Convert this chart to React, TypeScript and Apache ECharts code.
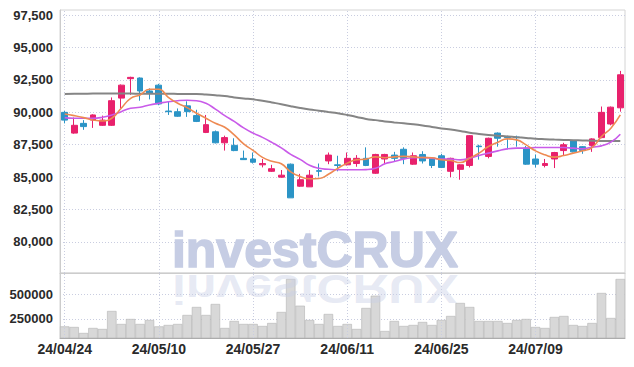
import React, { useEffect, useRef } from "react";
import * as echarts from "echarts";

const dates = [
  "24/04/24", "24/04/25", "24/04/26", "24/04/29", "24/04/30", "24/05/02", "24/05/03", "24/05/07", "24/05/08", "24/05/09",
  "24/05/10", "24/05/13", "24/05/14", "24/05/16", "24/05/17", "24/05/20", "24/05/21", "24/05/22", "24/05/23", "24/05/24",
  "24/05/27", "24/05/28", "24/05/29", "24/05/30", "24/05/31", "24/06/03", "24/06/04", "24/06/05", "24/06/07", "24/06/10",
  "24/06/11", "24/06/12", "24/06/13", "24/06/14", "24/06/17", "24/06/18", "24/06/19", "24/06/20", "24/06/21", "24/06/24",
  "24/06/25", "24/06/26", "24/06/27", "24/06/28", "24/07/01", "24/07/02", "24/07/03", "24/07/04", "24/07/05", "24/07/08",
  "24/07/09", "24/07/10", "24/07/11", "24/07/12", "24/07/15", "24/07/16", "24/07/17", "24/07/18", "24/07/19", "24/07/22",
];

const openPrices = [
  90000, 88400, 89150, 89400, 89000, 89000, 91100, 92600, 92650, 91650,
  92100, 90100, 90050, 90500, 89750, 88450, 88500, 87650, 87450, 86450,
  86400, 85950, 85450, 85000, 86000, 84300, 84250, 85500, 86250, 85950,
  85950, 86050, 86450, 85300, 86400, 86700, 87150, 86000, 86750, 86450,
  86650, 85450, 85600, 85900, 87400, 86600, 88400, 88100, 88100, 87250,
  86400, 85900, 86400, 87050, 87800, 87350, 87450, 88050, 89100, 90350,
];
const closePrices = [
  89400, 89000, 88900, 89800, 89400, 90900, 92100, 92700, 91650, 91450,
  90650, 90050, 89700, 90050, 89300, 89050, 87650, 88050, 87050, 86350,
  86150, 86050, 85650, 85150, 83400, 84800, 85150, 85450, 86700, 85900,
  86450, 86450, 85900, 86750, 86750, 86450, 86450, 86650, 86250, 85900,
  85750, 86450, 85950, 88200, 87350, 88000, 88000, 88050, 88050, 86000,
  86000, 86050, 86900, 87500, 86950, 87050, 87950, 90000, 90400, 92900,
];
const lowPrices = [
  89150, 88350, 88650, 88800, 88950, 88950, 90300, 91350, 90900, 91000,
  90550, 89800, 89650, 89650, 89250, 88400, 87600, 87050, 87000, 86350,
  86050, 85750, 85400, 84950, 83400, 84250, 84250, 85050, 86000, 85450,
  85900, 85800, 85850, 85250, 86000, 86200, 86000, 85950, 86050, 85700,
  85700, 85000, 84800, 85750, 86350, 86450, 87350, 87150, 87350, 85950,
  85750, 85750, 85700, 86650, 86900, 86800, 86950, 88000, 89000, 90050,
];
const highPrices = [
  90100, 89600, 89400, 89850, 89750, 91150, 92150, 92750, 92700, 91850,
  92200, 90800, 90300, 90850, 90200, 89800, 88600, 88200, 88000, 87050,
  86900, 86400, 85950, 85550, 86050, 85250, 85550, 86050, 86900, 86650,
  86900, 86700, 87300, 86800, 86800, 86950, 87300, 86900, 87000, 86500,
  86800, 86500, 86000, 88250, 87500, 88050, 88450, 88200, 88200, 87400,
  86750, 86400, 86950, 87650, 87850, 87400, 88000, 90450, 90450, 93200,
];

const ma5 = [
  89877, 89747, 89594, 89415, 89338, 89543, 90316, 91086, 91340, 91779,
  91779, 91163, 90701, 90362, 89931, 89543, 89158, 88853, 88260, 87567,
  87067, 86528, 86220, 86027, 85411, 85050, 84872, 84895, 85218, 85680,
  86081, 86335, 86389, 86566, 86500, 86566, 86600, 86566, 86512, 86490,
  86335, 86282, 86127, 86466, 86851, 87359, 87698, 87952, 87875, 87490,
  87028, 86720, 86543, 86666, 86851, 87028, 87282, 88130, 88776, 89800,
];
const ma20 = [
  89594, 89543, 89543, 89543, 89620, 89800, 90054, 90316, 90393, 90570,
  90701, 90824, 90901, 90932, 90901, 90700, 90250, 89750, 89300, 88800,
  88400, 88068, 87683, 87259, 86759, 86374, 85912, 85680, 85604, 85565,
  85565, 85565, 85580, 85680, 86027, 86204, 86389, 86490, 86512, 86466,
  86389, 86389, 86335, 86466, 86666, 86851, 87028, 87182, 87236, 87236,
  87282, 87282, 87282, 87282, 87236, 87182, 87313, 87413, 87698, 88314,
];
const ma120 = [
  91417, 91432, 91440, 91448, 91448, 91448, 91448, 91448, 91440, 91440,
  91432, 91432, 91425, 91417, 91417, 91379, 91325, 91263, 91155, 91070,
  91009, 90893, 90763, 90631, 90477, 90339, 90223, 90131, 90031, 89931,
  89800, 89646, 89492, 89400, 89300, 89223, 89153, 89084, 88992, 88876,
  88761, 88668, 88568, 88429, 88337, 88260, 88198, 88145, 88083, 88029,
  87967, 87929, 87898, 87875, 87852, 87829, 87806, 87798, 87798, 87798,
];

const volumes = [
  173900, 167700, 106000, 157400, 147100, 332300, 198600, 250000, 198600, 239700,
  173900, 188300, 198600, 291200, 373500, 291200, 404300, 157400, 229400, 198600,
  198600, 178000, 208800, 322000, 661500, 386800, 239700, 198600, 301400, 178000,
  198600, 147100, 363200, 489700, 126500, 229400, 178000, 188300, 219100, 188300,
  239700, 280900, 414600, 373500, 229400, 229400, 229400, 208800, 239700, 250000,
  167700, 157400, 270600, 280900, 188300, 178000, 208800, 517500, 260300, 661500,
];

const priceTicks = [80000, 82500, 85000, 87500, 90000, 92500, 95000, 97500];
const volumeTicks = [250000, 500000];
const labelDates = ["24/04/24", "24/05/10", "24/05/27", "24/06/11", "24/06/25", "24/07/09"];

const UP = "#e8216c";
const DOWN = "#2b94c6";
const GRID_LINE = "#c9cde0";
const FONT = "'Liberation Sans', Arial, sans-serif";

export default function App() {
  const ref = useRef<HTMLDivElement>(null);

  useEffect(() => {
    if (!ref.current) return;
    document.body.style.margin = "0";
    const chart = echarts.init(ref.current, null, { renderer: "svg" });
    const candles = dates.map((_, i) => [openPrices[i], closePrices[i], lowPrices[i], highPrices[i]]);
    const vLines = labelDates.map((d) => ({ xAxis: d }));
    const dotted = { type: [1, 2] as any, color: GRID_LINE, width: 1 };
    const labelStyle = { fontSize: 13, fontWeight: "bold" as const, color: "#2a2a2a", margin: 7, fontFamily: FONT };

    chart.setOption({
      animation: false,
      backgroundColor: "#ffffff",
      grid: [
        { left: 60, right: 9, top: 10, height: 263, show: true, borderColor: "#d4d4d4", borderWidth: 1 },
        { left: 60, right: 9, top: 273, height: 65, show: true, borderColor: "#d4d4d4", borderWidth: 1 },
      ],
      xAxis: [
        {
          type: "category",
          data: dates,
          gridIndex: 0,
          boundaryGap: true,
          axisLine: { show: true, lineStyle: { color: "#cccccc" } },
          axisTick: { show: false },
          axisLabel: { show: false },
          splitLine: { show: false },
        },
        {
          type: "category",
          data: dates,
          gridIndex: 1,
          boundaryGap: true,
          axisLine: { show: true, lineStyle: { color: "#aaaaaa" } },
          axisTick: { show: false },
          axisLabel: { interval: 9, fontSize: 14, fontWeight: "bold", color: "#2a2a2a", margin: 4, fontFamily: FONT },
          splitLine: { show: false },
        },
      ],
      yAxis: [
        {
          type: "value",
          gridIndex: 0,
          min: 77600,
          max: 97900,
          axisLine: { show: true, lineStyle: { color: "#cccccc" } },
          axisTick: { show: false, customValues: priceTicks },
          axisLabel: {
            ...labelStyle,
            customValues: priceTicks,
            formatter: (v: number) => v.toLocaleString("en-US"),
          },
          splitLine: { show: true, lineStyle: dotted },
        },
        {
          type: "value",
          gridIndex: 1,
          min: 54500,
          max: 723000,
          axisLine: { show: true, lineStyle: { color: "#cccccc" } },
          axisTick: { show: false, customValues: volumeTicks },
          axisLabel: {
            ...labelStyle,
            customValues: volumeTicks,
            formatter: (v: number) => String(v),
          },
          splitLine: { show: true, lineStyle: dotted },
        },
      ],
      series: [
        {
          type: "candlestick",
          xAxisIndex: 0,
          yAxisIndex: 0,
          data: candles,
          barWidth: "68%",
          itemStyle: { color: UP, color0: DOWN, borderColor: UP, borderColor0: DOWN, borderWidth: 1 },
          markLine: {
            silent: true,
            symbol: "none",
            label: { show: false },
            lineStyle: dotted,
            data: vLines,
            z: 0,
          },
          z: 3,
        },
        { type: "line", name: "MA120", data: ma120, xAxisIndex: 0, yAxisIndex: 0, showSymbol: false, smooth: true, lineStyle: { color: "#858585", width: 2 }, z: 4 },
        { type: "line", name: "MA20", data: ma20, xAxisIndex: 0, yAxisIndex: 0, showSymbol: false, smooth: true, lineStyle: { color: "#c95be9", width: 1.6 }, z: 4 },
        { type: "line", name: "MA5", data: ma5, xAxisIndex: 0, yAxisIndex: 0, showSymbol: false, smooth: true, lineStyle: { color: "#ee8a52", width: 1.6 }, z: 5 },
        {
          type: "bar",
          xAxisIndex: 1,
          yAxisIndex: 1,
          data: volumes,
          barCategoryGap: "0%",
          itemStyle: { color: "#d8d8d8", borderColor: "#b4b4b4", borderWidth: 0.6 },
          markLine: {
            silent: true,
            symbol: "none",
            label: { show: false },
            lineStyle: dotted,
            data: vLines,
          },
        },
      ],
      graphic: [
        {
          type: "text",
          x: 315,
          y: 250,
          z: 100,
          silent: true,
          style: {
            text: "investCRUX",
            font: "bold 50px 'Liberation Sans', Arial, sans-serif",
            fill: "#c6cde4",
            stroke: "#c6cde4",
            lineWidth: 1.5,
            align: "center",
            verticalAlign: "middle",
            textAlign: "center",
            textVerticalAlign: "middle",
          },
        },
        {
          type: "text",
          x: 315,
          y: 289,
          scaleY: -0.8,
          z: 100,
          silent: true,
          style: {
            text: "investCRUX",
            font: "bold 50px 'Liberation Sans', Arial, sans-serif",
            fill: "#c9d0e6",
            opacity: 0.45,
            align: "center",
            verticalAlign: "middle",
            textAlign: "center",
            textVerticalAlign: "middle",
          },
        },
      ],
    });
    return () => chart.dispose();
  }, []);

  return <div ref={ref} style={{ width: 634, height: 367 }} />;
}
